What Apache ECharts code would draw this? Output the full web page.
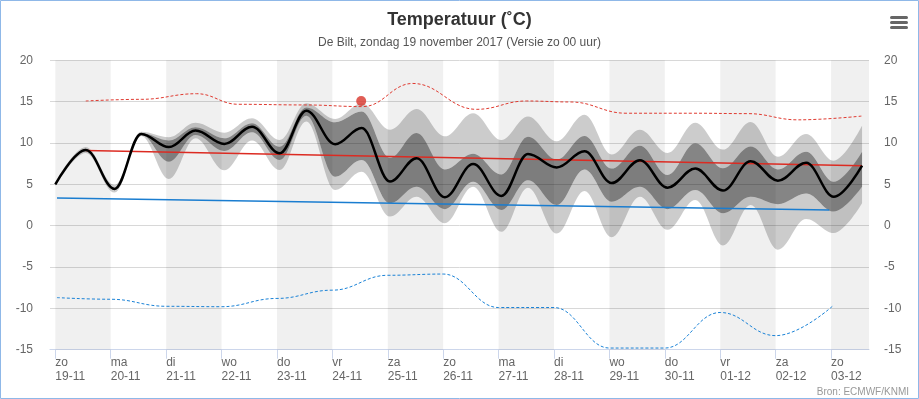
<!DOCTYPE html>
<html>
<head>
<meta charset="utf-8">
<script src="https://cdn.jsdelivr.net/npm/echarts@6/dist/echarts.min.js"></script>
<style>
html,body{margin:0;padding:0;background:#fff;}
#chart{width:919px;height:399px;}
</style>
</head>
<body>
<div id="chart"></div>
<script>
// ---- data ----
const dayTicks = [0,1,2,3,4,5,6,7,8,9,10,11,12,13,14];
const dayNames = ['zo','ma','di','wo','do','vr','za','zo','ma','di','wo','do','vr','za','zo'];
const dayDates = ['19-11','20-11','21-11','22-11','23-11','24-11','25-11','26-11','27-11','28-11','29-11','30-11','01-12','02-12','03-12'];
const yTicks = [-15,-10,-5,0,5,10,15,20];

// time (days after 19-11 00:00) of ensemble points
const ensT = [0,0.55,1.07,1.55,2.05,2.53,3.05,3.55,4.05,4.53,5.05,5.53,6.04,6.52,7.03,7.54,8.05,8.53,9.05,9.55,10.04,10.55,11.05,11.55,12.05,12.55,13.04,13.55,14.05,14.56];
const median =   [5.0,9.15,4.45,11.1,9.5,11.5,9.88,11.97,8.75,13.9,9.85,11.8,5.35,8.15,3.45,7.45,3.6,8.67,7.05,9.0,5.15,7.9,4.6,6.9,4.24,7.8,5.44,7.6,3.5,7.26];
const lightUpper=[5.2,9.5,4.9,11.35,10.7,12.45,11.25,12.98,10.36,14.8,12.9,14.8,11.6,14.1,10.8,13.6,10.36,13.2,10.2,13.4,8.6,11.6,8.8,12.45,9.2,12.55,8.35,11.1,7.86,12.1];
const darkUpper= [5.1,9.3,4.6,11.2,10.3,11.9,10.57,12.4,9.55,14.3,12.5,13.8,8.2,11.2,6.8,8.7,6.2,10.76,8.0,10.85,6.9,9.67,6.13,9.96,6.94,9.56,6.8,8.95,5.32,8.95];
const darkLower= [4.9,9.0,4.3,11.0,7.74,10.97,9.03,11.3,7.94,13.3,5.93,7.95,2.7,4.7,2.0,5.3,1.9,5.5,2.5,6.8,2.9,4.7,2.0,4.3,1.5,3.5,2.6,3.9,1.7,4.7];
const lightLower=[4.8,8.8,4.0,10.85,5.65,10.57,6.7,10.3,6.73,12.6,4.32,6.53,1.1,3.5,0.3,4.7,-0.75,4.6,-0.95,4.2,-1.4,3.5,-0.5,3.1,-2.4,2.5,-2.9,0.8,-0.9,2.7];

// normal max / min (straight lines)
const normMaxT = [0.55,14.56];
const normMax = [9.1,7.25];
const normMinT = [0.03,13.97];
const normMin = [3.35,1.9];

// record max / min
const recMaxT = [0.55,1.55,2.55,3.3,4.5,5.55,6.45,7.6,8.5,9.3,10.3,11.5,12.5,13.4,14.56];
const recMax = [15.08,15.28,15.96,14.68,14.6,14.4,17.2,14.07,15.08,14.96,13.6,13.6,13.55,12.8,13.26];
const recMinT = [0.03,1,2,3,4,5,6,7,8,9,10,11,12,13,14.05];
const recMin = [-8.7,-8.9,-9.75,-9.8,-8.8,-7.8,-6.0,-5.85,-9.9,-9.9,-14.8,-14.8,-10.5,-13.3,-9.6];

// record marker
const recordPointT = [5.52];
const recordPoint = [15.08];

// ---- build ----
const zip = (xs, ys) => xs.map((x, i) => [x, ys[i]]);
// band rows as [value, time] so the stacked dimension is the value
const bandRows = vals => ensT.map((t, i) => [vals[i], t]);
const diffRows = (a, b) => ensT.map((t, i) => [+(a[i] - b[i]).toFixed(3), t]);

const FONT = 'Liberation Sans, Arial, Helvetica, sans-serif';
const shade = [];
for (let d = 0; d <= 14; d += 2) {
  shade.push([{xAxis: d}, {xAxis: d === 14 ? 14.685 : d + 1}]);
}

const WAVE_SMOOTH = 0.37;
const bandCommon = {
  type: 'line', stack: 'band', stackStrategy: 'all', smooth: WAVE_SMOOTH, smoothMonotone: 'x',
  encode: {x: 1, y: 0},
  showSymbol: false, symbol: 'none', silent: true, lineStyle: {width: 0, opacity: 0}
};

const chart = echarts.init(document.getElementById('chart'), null, {renderer: 'canvas'});
chart.setOption({
  animation: false,
  backgroundColor: '#ffffff',
  textStyle: {fontFamily: FONT},
  title: {
    text: 'Temperatuur (˚C)',
    subtext: 'De Bilt, zondag 19 november 2017 (Versie zo 00 uur)',
    left: 'center', top: 6, itemGap: 8,
    textStyle: {fontSize: 18, fontWeight: 'bold', color: '#333333', fontFamily: FONT},
    subtextStyle: {fontSize: 12, color: '#555555', fontFamily: FONT}
  },
  grid: {left: 50, right: 50, top: 60.3, bottom: 49.3},
  xAxis: {
    type: 'value', min: -0.096, max: 14.685,
    axisLine: {show: true, onZero: false, lineStyle: {color: '#ccd6eb', width: 1}},
    axisTick: {show: true, customValues: dayTicks, length: 9, lineStyle: {color: '#ccd6eb'}},
    axisLabel: {
      customValues: dayTicks, align: 'left', color: '#666666', fontSize: 12, lineHeight: 14, margin: 6,
      formatter: v => { const i = Math.round(v); return dayNames[i] + '\n' + dayDates[i]; }
    },
    splitLine: {show: false}
  },
  yAxis: [
    {type: 'value', min: yTicks[0], max: yTicks[yTicks.length - 1], interval: 5, position: 'left',
     axisLine: {show: false}, axisTick: {show: false},
     axisLabel: {color: '#666666', fontSize: 12, margin: 17},
     splitLine: {show: true, lineStyle: {color: '#d8d8d8', width: 1}}},
    {type: 'value', min: yTicks[0], max: yTicks[yTicks.length - 1], interval: 5, position: 'right',
     axisLine: {show: false}, axisTick: {show: false},
     axisLabel: {color: '#666666', fontSize: 12, margin: 15},
     splitLine: {show: false}}
  ],
  series: [
    Object.assign({}, bandCommon, {
      name: 'base', z: 1, data: bandRows(lightLower),
      markArea: {silent: true, itemStyle: {color: 'rgba(0,0,0,0.058)'}, data: shade}
    }),
    Object.assign({}, bandCommon, {name: 'l1', z: 2, data: diffRows(darkLower, lightLower), areaStyle: {color: 'rgba(0,0,0,0.2)', opacity: 1}}),
    Object.assign({}, bandCommon, {name: 'd', z: 2, data: diffRows(darkUpper, darkLower), areaStyle: {color: 'rgba(0,0,0,0.48)', opacity: 1}}),
    Object.assign({}, bandCommon, {name: 'l2', z: 2, data: diffRows(lightUpper, darkUpper), areaStyle: {color: 'rgba(0,0,0,0.2)', opacity: 1}}),
    {type: 'line', name: 'normMax', z: 3, showSymbol: false, symbol: 'none', silent: true,
     data: zip(normMaxT, normMax), lineStyle: {color: '#dc2b22', width: 1.5}},
    {type: 'line', name: 'normMin', z: 3, showSymbol: false, symbol: 'none', silent: true,
     data: zip(normMinT, normMin), lineStyle: {color: '#1a7dd0', width: 1.5}},
    {type: 'line', name: 'recMax', z: 3, showSymbol: false, symbol: 'none', silent: true,
     smooth: 0.42, smoothMonotone: 'x',
     data: zip(recMaxT, recMax), lineStyle: {color: '#e03a30', width: 1, type: [3, 2]}},
    {type: 'line', name: 'recMin', z: 3, showSymbol: false, symbol: 'none', silent: true,
     smooth: 0.42, smoothMonotone: 'x',
     data: zip(recMinT, recMin), lineStyle: {color: '#1a82d6', width: 1, type: [3, 2]}},
    {type: 'line', name: 'median', z: 4, showSymbol: false, symbol: 'none', silent: true,
     smooth: WAVE_SMOOTH, smoothMonotone: 'x',
     data: zip(ensT, median), lineStyle: {color: '#000000', width: 2.5}},
    {type: 'scatter', name: 'record', z: 5, silent: true, symbolSize: 10,
     data: zip(recordPointT, recordPoint), itemStyle: {color: '#d8342a'}}
  ],
  graphic: [
    {type: 'rect', silent: true, shape: {x: 0.5, y: 0.5, width: 918, height: 398},
     style: {fill: 'none', stroke: '#8fb8e8', lineWidth: 1}},
    {type: 'rect', silent: true, shape: {x: 890, y: 16, width: 18, height: 3, r: 1.5}, style: {fill: '#666666'}},
    {type: 'rect', silent: true, shape: {x: 890, y: 21, width: 18, height: 3, r: 1.5}, style: {fill: '#666666'}},
    {type: 'rect', silent: true, shape: {x: 890, y: 26, width: 18, height: 3, r: 1.5}, style: {fill: '#666666'}},
    {type: 'text', silent: true, x: 909, y: 397,
     style: {text: 'Bron: ECMWF/KNMI', fill: '#999999', fontSize: 10, fontFamily: FONT, align: 'right', verticalAlign: 'bottom'}}
  ]
});
</script>
</body>
</html>
